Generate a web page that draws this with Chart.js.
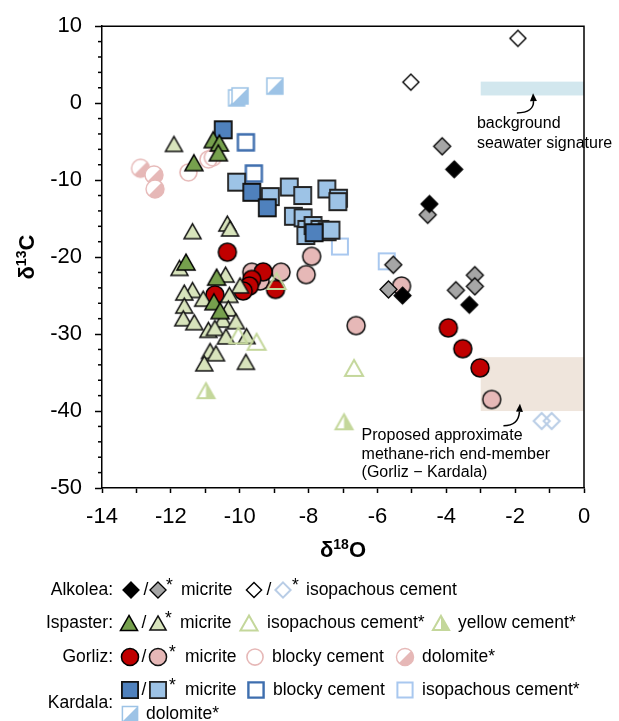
<!DOCTYPE html>
<html><head><meta charset="utf-8">
<script src="https://cdn.jsdelivr.net/npm/chart.js@4/dist/chart.umd.min.js"></script>
<style>html,body{margin:0;padding:0;background:#fff;}#wrap{width:619px;height:721px;}</style>
</head><body><div id="wrap"><canvas id="c" width="619" height="721"></canvas></div>
<script>
// ---------- DATA (δ18O, δ13C) ----------
const xTickLabels = ['-14','-12','-10','-8','-6','-4','-2','0'];
const yTickLabels = ['10','0','-10','-20','-30','-40','-50'];

const alkoleaMicrite = [[-3.77,-8.6],[-4.49,-13.1],[-5.27,-25.0],[-3.33,-26.2]];
const alkoleaMicriteStar = [[-4.12,-5.6],[-4.54,-14.5],[-5.54,-21.0],[-5.68,-24.2],[-3.72,-24.3],[-3.17,-22.35],[-3.17,-23.8]];
const alkoleaIsoCement = [[-1.92,8.42],[-5.03,2.73]];
const alkoleaIsoCementStar = [[-1.23,-41.3],[-0.94,-41.3]];

const ispasterMicrite = [[-10.77,-4.74],[-10.59,-5.17],[-10.62,-6.45],[-11.33,-7.73],[-11.56,-20.64],[-10.67,-22.6],[-10.75,-25.8],[-10.57,-26.96]];
const ispasterMicriteStar = [[-11.91,-5.29],[-11.37,-16.63],[-10.36,-15.64],[-10.28,-16.28],[-11.75,-21.4],[-10.41,-22.27],[-9.99,-23.68],[-11.37,-24.27],[-11.61,-24.6],[-11.06,-25.4],[-10.3,-24.9],[-11.61,-26.3],[-10.33,-26.67],[-11.64,-27.95],[-11.32,-28.46],[-10.49,-28.12],[-10.11,-28.33],[-10.91,-29.45],[-10.72,-29.2],[-10.4,-30.3],[-9.8,-30.26],[-10.86,-32.2],[-10.69,-32.5],[-11.03,-33.8],[-9.82,-33.6]];
const ispasterIsoCementStar = [[-10.04,-30.17],[-9.51,-31.0],[-8.93,-23.1],[-6.68,-34.4]];
const ispasterYellowCementStar = [[-10.98,-37.35],[-6.97,-41.4]];

const gorlizMicrite = [[-10.36,-19.36],[-9.32,-21.92],[-9.65,-22.9],[-9.72,-23.76],[-9.9,-24.4],[-8.96,-24.2],[-10.72,-24.9],[-3.94,-29.2],[-3.52,-31.9],[-3.02,-34.4]];
const gorlizMicriteStar = [[-9.65,-21.96],[-8.8,-21.96],[-7.91,-19.9],[-8.07,-22.27],[-9.41,-23.1],[-6.62,-28.9],[-5.3,-23.76],[-2.68,-38.5]];
const gorlizBlockyCement = [[-11.49,-9.0],[-10.91,-7.31],[-10.78,-7.05]];
const gorlizDolomiteStar = [[-12.88,-8.46],[-12.49,-9.32],[-12.46,-11.15]];

const kardalaMicrite = [[-10.48,-3.46],[-9.65,-11.58],[-9.2,-13.59],[-7.84,-16.83]];
const kardalaMicriteStar = [[-10.09,-10.26],[-9.11,-12.14],[-8.56,-10.9],[-8.17,-12.0],[-7.47,-11.15],[-7.13,-12.35],[-7.15,-12.8],[-8.44,-14.7],[-8.16,-14.9],[-8.05,-16.4],[-8.08,-17.2],[-7.87,-15.9],[-7.67,-16.4],[-7.46,-16.7],[-7.35,-16.5]];
const kardalaBlockyCement = [[-9.82,-5.09],[-9.59,-9.14]];
const kardalaIsoCementStar = [[-7.09,-18.63],[-5.73,-20.55]];
const kardalaDolomiteStar = [[-10.09,0.68],[-9.99,0.94],[-8.98,2.22]];

// annotation regions (x from, x to, y from, y to)
const seawaterBox = [-3, 0, 1.0, 2.8];
const methaneBox = [-3, 0, -40, -33];
const seawaterArrow = [[-1.95,-1.28],[-1.45,-1.2],[-1.48,1.3]];
const methaneArrow = [[-2.34,-41.92],[-1.9,-41.9],[-1.86,-39.06]];
const seawaterText = [[-3.11,-2.69,'background'],[-3.11,-5.26,'seawater signature']];
const methaneText = [[-6.46,-43.2,'Proposed approximate'],[-6.46,-45.64,'methane-rich end-member'],[-6.46,-48.04,'(Gorliz \u2212 Kardala)']];

// ---------- STYLES ----------
const FONT = "'Liberation Sans', Arial, sans-serif";
const S = {
  alkMic:  {kind:'diamond', s:17, fill:'#000000', stroke:'#000000', lw:1.2},
  alkMicS: {kind:'diamond', s:17, fill:'#a6a6a6', stroke:'#000000', lw:1.3},
  alkIso:  {kind:'diamond', s:16, fill:'#ffffff', stroke:'#000000', lw:1.4},
  alkIsoS: {kind:'diamond', s:16, fill:null, stroke:'#b9cde6', lw:2},
  ispMic:  {kind:'triangle', s:18, fill:'#76a04d', stroke:'#000000', lw:1.5},
  ispMicS: {kind:'triangle', s:17, fill:'#d8e4bc', stroke:'#111111', lw:1.5},
  ispIsoS: {kind:'triangle', s:18, fill:null, stroke:'#c4d79b', lw:2},
  ispYelS: {kind:'triangle', s:17, fill:null, half:'#c4d79b', stroke:'#c4d79b', lw:2},
  gorMic:  {kind:'circle', s:18, fill:'#c00000', stroke:'#000000', lw:1.5},
  gorMicS: {kind:'circle', s:18, fill:'#e6b8b7', stroke:'#111111', lw:1.5},
  gorBlk:  {kind:'circle', s:17, fill:null, stroke:'#e6b8b7', lw:1.6},
  gorDol:  {kind:'circle', s:18, fill:'#ffffff', half:'#e6b8b7', stroke:'#e6b8b7', lw:1.4},
  karMic:  {kind:'square', s:17, fill:'#4f81bd', stroke:'#111111', lw:1.8},
  karMicS: {kind:'square', s:17, fill:'#9dc3e6', stroke:'#222222', lw:1.8},
  karBlk:  {kind:'square', s:16, fill:'#ffffff', stroke:'#3e6eae', lw:2.4},
  karIsoS: {kind:'square', s:16, fill:null, stroke:'#a9c8ef', lw:2},
  karDol:  {kind:'square', s:16, fill:'#ffffff', half:'#9dc3e6', stroke:'#9dc3e6', lw:1.5}
};

function shapePath(ctx, kind, cx, cy, s){
  const h = s/2;
  ctx.beginPath();
  if (kind === 'diamond'){ ctx.moveTo(cx,cy-h); ctx.lineTo(cx+h,cy); ctx.lineTo(cx,cy+h); ctx.lineTo(cx-h,cy); ctx.closePath(); }
  else if (kind === 'triangle'){ const th = s*0.88; ctx.moveTo(cx,cy-th/2); ctx.lineTo(cx+h,cy+th/2); ctx.lineTo(cx-h,cy+th/2); ctx.closePath(); }
  else if (kind === 'circle'){ ctx.arc(cx,cy,h,0,Math.PI*2); }
  else { ctx.rect(cx-h,cy-h,s,s); }
}
function drawShape(ctx, st, cx, cy, k){
  const s = st.s*(k||1);
  ctx.save();
  shapePath(ctx, st.kind, cx, cy, s);
  if (st.fill){ ctx.fillStyle = st.fill; ctx.fill(); }
  if (st.half){
    ctx.save(); ctx.clip(); ctx.beginPath();
    if (st.kind === 'triangle'){ ctx.rect(cx, cy-s, s, 2*s); }
    else { ctx.moveTo(cx-s,cy+s); ctx.lineTo(cx+s,cy-s); ctx.lineTo(cx+s,cy+s); ctx.closePath(); }
    ctx.fillStyle = st.half; ctx.fill(); ctx.restore();
    shapePath(ctx, st.kind, cx, cy, s);
  }
  if (st.stroke){ ctx.lineWidth = st.lw; ctx.strokeStyle = st.stroke; ctx.lineJoin = 'miter'; ctx.stroke(); }
  ctx.restore();
}
function makeStyle(st){
  const n = Math.ceil(st.s + st.lw + 4);
  const c = document.createElement('canvas'); c.width = n; c.height = n;
  drawShape(c.getContext('2d'), st, n/2, n/2);
  return c;
}
function ds(label, pts, st){
  return { label, data: pts.map(p => ({x:p[0], y:p[1]})), pointStyle: makeStyle(st),
           pointRadius: st.s/2, pointHoverRadius: st.s/2, showLine:false };
}

// first dataset is drawn on top
const datasets = [
  ds('Alkolea micrite', alkoleaMicrite, S.alkMic),
  ds('Alkolea micrite*', alkoleaMicriteStar, S.alkMicS),
  ds('Alkolea isopachous cement', alkoleaIsoCement, S.alkIso),
  ds('Alkolea isopachous cement*', alkoleaIsoCementStar, S.alkIsoS),
  ds('Ispaster isopachous cement*', ispasterIsoCementStar, S.ispIsoS),
  ds('Ispaster yellow cement*', ispasterYellowCementStar, S.ispYelS),
  ds('Ispaster micrite', ispasterMicrite, S.ispMic),
  ds('Ispaster micrite*', ispasterMicriteStar, S.ispMicS),
  ds('Gorliz micrite', gorlizMicrite, S.gorMic),
  ds('Gorliz micrite*', gorlizMicriteStar, S.gorMicS),
  ds('Gorliz blocky cement', gorlizBlockyCement, S.gorBlk),
  ds('Gorliz dolomite*', gorlizDolomiteStar, S.gorDol),
  ds('Kardala micrite', kardalaMicrite, S.karMic),
  ds('Kardala micrite*', kardalaMicriteStar, S.karMicS),
  ds('Kardala blocky cement', kardalaBlockyCement, S.karBlk),
  ds('Kardala isopachous cement*', kardalaIsoCementStar, S.karIsoS),
  ds('Kardala dolomite*', kardalaDolomiteStar, S.karDol)
];

// ---------- PLUGINS ----------
const bgPlugin = {
  id:'bg',
  beforeDraw(chart){ const c = chart.ctx; c.save(); c.fillStyle = '#fff'; c.fillRect(0,0,chart.width,chart.height); c.restore(); },
  beforeDatasetsDraw(chart){
    const c = chart.ctx, xs = chart.scales.x, ys = chart.scales.y;
    const box = (b, col) => {
      const x0 = xs.getPixelForValue(b[0]), x1 = xs.getPixelForValue(b[1]);
      const y0 = ys.getPixelForValue(b[3]), y1 = ys.getPixelForValue(b[2]);
      c.fillStyle = col; c.fillRect(x0, y0, x1-x0, y1-y0);
    };
    c.save(); box(seawaterBox, '#d2e7ee'); box(methaneBox, '#efe5dc'); c.restore();
  }
};

function drawArrow(c, xs, ys, a){
  const p = a.map(q => [xs.getPixelForValue(q[0]), ys.getPixelForValue(q[1])]);
  const ang = Math.atan2(p[2][1]-p[1][1], p[2][0]-p[1][0]);
  const L = 8, W = 3.5;
  const bx = p[2][0] - Math.cos(ang)*L, by = p[2][1] - Math.sin(ang)*L;
  c.save(); c.strokeStyle = '#000'; c.lineWidth = 1.5;
  c.beginPath(); c.moveTo(p[0][0], p[0][1]); c.quadraticCurveTo(p[1][0], p[1][1], bx, by); c.stroke();
  c.fillStyle = '#000'; c.beginPath();
  c.moveTo(p[2][0], p[2][1]);
  c.lineTo(bx + Math.sin(ang)*W, by - Math.cos(ang)*W);
  c.lineTo(bx - Math.sin(ang)*W, by + Math.cos(ang)*W);
  c.closePath(); c.fill(); c.restore();
}

function supText(c, parts, x0, baseline, align){
  let w = 0;
  parts.forEach(p => { c.font = 'bold ' + p[1] + 'px ' + FONT; w += c.measureText(p[0]).width; });
  let x = align === 'center' ? x0 - w/2 : x0;
  parts.forEach(p => { c.font = 'bold ' + p[1] + 'px ' + FONT; c.fillText(p[0], x, baseline + p[2]); x += c.measureText(p[0]).width; });
}

const legendRows = [
  {y:590, label:'Alkolea:', ly:590, items:[['i','alkMic',131],['t','/',146,'c'],['i','alkMicS',158],['s','*',166],['t','micrite',181],['i','alkIso',254],['t','/',269,'c'],['i','alkIsoS',283],['s','*',292],['t','isopachous cement',306]]},
  {y:623, label:'Ispaster:', ly:623, items:[['i','ispMic',129],['t','/',144,'c'],['i','ispMicS',158],['s','*',165],['t','micrite',180],['i','ispIsoS',249],['t','isopachous cement*',267],['i','ispYelS',441],['t','yellow cement*',458]]},
  {y:657, label:'Gorliz:', ly:657, items:[['i','gorMic',130],['t','/',144,'c'],['i','gorMicS',158],['s','*',169],['t','micrite',185],['i','gorBlk',255],['t','blocky cement',272],['i','gorDol',405],['t','dolomite*',422]]},
  {y:690, label:'Kardala:', ly:703, items:[['i','karMic',130],['t','/',144,'c'],['i','karMicS',158],['s','*',169],['t','micrite',185],['i','karBlk',256],['t','blocky cement',273],['i','karIsoS',405],['t','isopachous cement*',422]]},
  {y:714, label:'', ly:714, items:[['i','karDol',130],['t','dolomite*',146]]}
];

const overlayPlugin = {
  id:'overlay',
  afterDraw(chart){
    const c = chart.ctx, a = chart.chartArea, xs = chart.scales.x, ys = chart.scales.y;
    c.save();
    c.strokeStyle = '#000'; c.lineWidth = 1.5;
    c.beginPath(); c.moveTo(a.left, a.top); c.lineTo(a.right, a.top); c.lineTo(a.right, a.bottom); c.stroke();
    for (let v = -48; v < 10; v += 2){
      if (v % 10 === 0) continue;
      const py = ys.getPixelForValue(v);
      c.beginPath(); c.moveTo(a.left - 4, py); c.lineTo(a.left, py); c.stroke();
    }
    c.fillStyle = '#000'; c.textBaseline = 'alphabetic';
    supText(c, [['\u03b4',22,0],['18',14,-8],['O',22,0]], (a.left+a.right)/2, 557, 'center');
    c.save(); c.translate(34, (a.top+a.bottom)/2); c.rotate(-Math.PI/2);
    supText(c, [['\u03b4',22,0],['13',14,-8],['C',22,0]], 0, 0, 'center');
    c.restore();
    c.font = '16px ' + FONT; c.textBaseline = 'middle'; c.textAlign = 'left';
    seawaterText.concat(methaneText).forEach(t => c.fillText(t[2], xs.getPixelForValue(t[0]), ys.getPixelForValue(t[1])));
    drawArrow(c, xs, ys, seawaterArrow);
    drawArrow(c, xs, ys, methaneArrow);
    c.textBaseline = 'middle';
    legendRows.forEach(r => {
      c.font = '17.5px ' + FONT; c.textAlign = 'right'; c.fillStyle = '#000';
      if (r.label) c.fillText(r.label, 113, r.ly);
      r.items.forEach(it => {
        if (it[0] === 'i'){ drawShape(c, S[it[1]], it[2], r.y, 0.95); }
        else if (it[0] === 's'){ c.font = '17.5px ' + FONT; c.textAlign = 'left'; c.fillText(it[1], it[2], r.y - 4); }
        else { c.font = '17.5px ' + FONT; c.textAlign = it[3] === 'c' ? 'center' : 'left'; c.fillText(it[1], it[2], r.y); }
      });
    });
    c.restore();
  }
};

new Chart(document.getElementById('c').getContext('2d'), {
  type:'scatter',
  data:{ datasets },
  options:{
    responsive:false, animation:false, devicePixelRatio:1,
    layout:{ padding:{ top:20, right:35, left:0, bottom:0 } },
    plugins:{ legend:{ display:false }, tooltip:{ enabled:false } },
    scales:{
      x:{
        type:'linear', min:-14, max:0,
        afterFit(s){ s.height = 233; },
        ticks:{ stepSize:1, autoSkip:false, maxRotation:0, padding:11, color:'#000',
                font:{ family:FONT, size:22 },
                callback:(v) => xTickLabels.includes(String(v)) ? String(v) : '' },
        grid:{ display:true, drawOnChartArea:false, drawTicks:true, tickLength:5, color:'#000', tickWidth:1.5 },
        border:{ display:true, color:'#000', width:1.5 }
      },
      y:{
        type:'linear', min:-50, max:10,
        afterFit(s){ s.width = 102; },
        ticks:{ stepSize:10, padding:13, color:'#000', font:{ family:FONT, size:22 },
                callback:(v) => yTickLabels.includes(String(v)) ? String(v) : '' },
        grid:{ display:true, drawOnChartArea:false, drawTicks:true, tickLength:7, color:'#000', tickWidth:1.5 },
        border:{ display:true, color:'#000', width:1.5 }
      }
    }
  },
  plugins:[bgPlugin, overlayPlugin]
});
</script></body></html>
